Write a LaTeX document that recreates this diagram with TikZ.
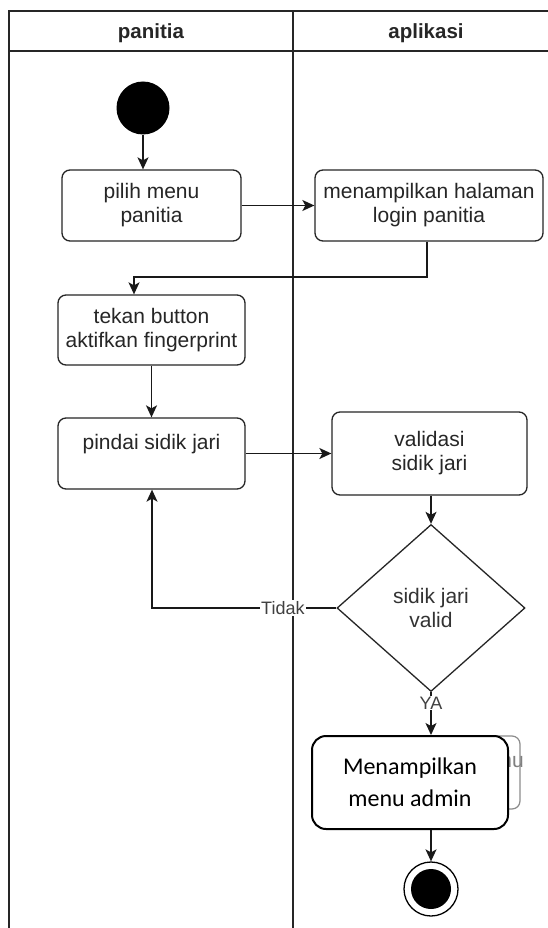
\documentclass[tikz,border=0pt]{standalone}
\usepackage{fontspec}
\setmainfont{Liberation Sans}
\newfontfamily\carlito{Carlito}
\usetikzlibrary{shapes.geometric,arrows.meta}
\begin{document}
\begin{tikzpicture}[x=1pt,y=-1pt,
  lane/.style={draw=black!85,line width=1.4pt},
  act/.style={draw=black!85,line width=1.3pt,rounded corners=8pt,align=center,
    inner sep=3pt,text=black!85,font=\fontsize{21}{24}\selectfont},
  decision/.style={draw=black!85,line width=1.3pt,shape=diamond,inner sep=0pt,align=center,
    text=black!80,font=\fontsize{21}{24}\selectfont},
  flow/.style={draw=black!90,line width=1.4pt,-{Stealth[length=12pt,width=11pt,inset=3pt]}},
  guard/.style={fill=white,inner sep=1pt,text=black!75,font=\fontsize{18}{20}\selectfont},
  lanetitle/.style={font=\bfseries\fontsize{20.5}{24}\selectfont,text=black!85}
]
\useasboundingbox (0,0) rectangle (548,928);
\fill[white] (0,0) rectangle (548,928);

% swimlanes
\draw[lane] (9,928) -- (9,11) -- (560,11);
\draw[lane] (9,51) -- (560,51);
\draw[lane] (293,11) -- (293,928);
\node[lanetitle] (hpanitia) at (151,33) {panitia};
\node[lanetitle] (haplikasi) at (426,33) {aplikasi};

% activities
\node[circle,fill=black,minimum size=53pt,inner sep=0pt] (start) at (143,108) {};
\node[act,minimum width=179pt,minimum height=71pt] (b1) at (151.5,205.5) {pilih menu\\panitia};
\node[act,minimum width=228pt,minimum height=71pt] (b2) at (429,205.5) {menampilkan halaman\\login panitia};
\node[act,minimum width=187pt,minimum height=70pt] (b3) at (151.5,330) {tekan button\\aktifkan fingerprint};
\node[act,minimum width=187pt,minimum height=71pt] (b4) at (151.5,453.5) {pindai sidik jari\\\mbox{}};
\node[act,minimum width=195pt,minimum height=83pt] (b5) at (429.5,453.5) {validasi\\sidik jari};
\node[decision,minimum width=188pt,minimum height=167pt] (dec) at (431,608) {sidik jari\\valid};

% older activity box lying underneath
\node[draw=black!45,line width=1.2pt,rounded corners=8pt,minimum width=188pt,minimum height=73pt]
  (bback) at (426,772.5) {};
\node[anchor=east,inner sep=0pt,text=black!50,font=\fontsize{21}{24}\selectfont] (bbacktext) at (524,762) {menu};

% front activity box
\node[draw=black,line width=2pt,rounded corners=14pt,fill=white,align=center,
  minimum width=196pt,minimum height=93pt,font=\carlito\fontsize{24}{32}\selectfont]
  (b6) at (410,782.5) {Menampilkan\\menu admin};

% final node
\node[circle,draw=black,line width=1.3pt,fill=white,minimum size=54pt,inner sep=0pt] (end) at (431,889) {};
\node[circle,fill=black,minimum size=40pt,inner sep=0pt] (endin) at (end) {};

% control flow
\coordinate (k1) at (134,277);
\coordinate (k2) at (152,608);
\draw[flow] (start) -- (start |- b1.north);
\draw[flow] (b1.east) -- (b1.east -| b2.west);
\draw[flow] ([xshift=-2pt]b2.south) |- (k1) -- (k1 |- b3.north);
\draw[flow] (b3.south) -- (b4.north);
\draw[flow] (b4.east) -- (b4.east -| b5.west);
\draw[flow] (dec.north |- b5.south) -- (dec.north);
\draw[flow] (dec.west) -- node[guard,pos=0.29] (ltidak) {Tidak} (k2) -- (k2 |- b4.south);
\draw[flow] (dec.south) -- node[guard,pos=0.25] (lya) {YA} (dec.south |- b6.north);
\draw[flow] (b6.south -| end) -- (end.north);
\end{tikzpicture}
\end{document}
